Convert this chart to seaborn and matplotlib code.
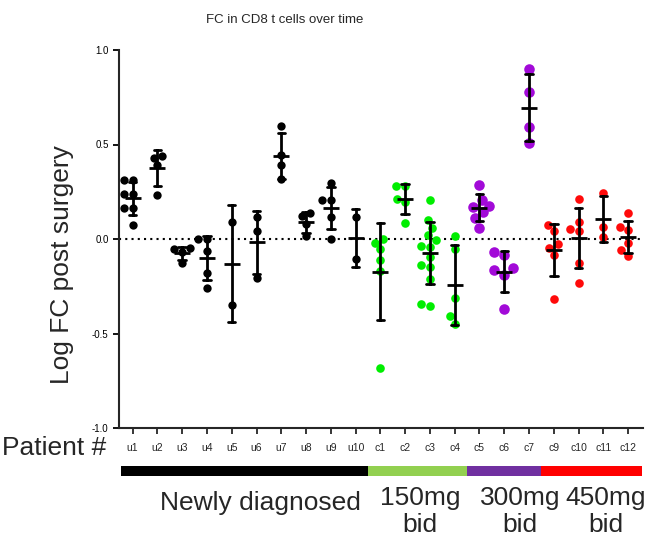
import matplotlib
matplotlib.use("Agg")
import matplotlib.pyplot as plt
from matplotlib.patches import Rectangle
import seaborn as sns
import pandas as pd

# ---- data ----
patients = ["u1", "u2", "u3", "u4", "u5", "u6", "u7", "u8", "u9", "u10",
            "c1", "c2", "c3", "c4", "c5", "c6", "c7", "c9", "c10", "c11", "c12"]

u1 = [0.31, 0.31, 0.24, 0.24, 0.165, 0.165, 0.075]
u2 = [0.44, 0.43, 0.39, 0.235]
u3 = [-0.05, -0.055, -0.07, -0.125]
u4 = [0.0, 0.0, -0.065, -0.18, -0.26]
u5 = [0.09, -0.35]
u6 = [0.115, 0.04, -0.205]
u7 = [0.60, 0.445, 0.39, 0.315]
u8 = [0.14, 0.12, 0.08, 0.015]
u9 = [0.295, 0.205, 0.205, 0.115, 0.0]
u10 = [0.115, -0.105]
c1 = [0.0, -0.02, -0.055, -0.11, -0.17, -0.68]
c2 = [0.28, 0.28, 0.21, 0.195, 0.085]
c3 = [0.205, 0.10, 0.06, 0.02, -0.005, -0.04, -0.035, -0.095, -0.14, -0.15,
      -0.21, -0.355, -0.345]
c4 = [0.015, -0.055, -0.31, -0.41, -0.45]
c5 = [0.285, 0.205, 0.175, 0.17, 0.145, 0.11, 0.06]
c6 = [-0.07, -0.085, -0.155, -0.165, -0.19, -0.37]
c7 = [0.90, 0.78, 0.59, 0.51]
c9 = [0.075, 0.04, -0.025, -0.045, -0.085, -0.315]
c10 = [0.21, 0.09, 0.055, 0.04, -0.125, -0.235]
c11 = [0.245, 0.065, 0.01]
c12 = [0.135, 0.065, 0.045, -0.02, -0.06, -0.09]

values = [u1, u2, u3, u4, u5, u6, u7, u8, u9, u10,
          c1, c2, c3, c4, c5, c6, c7, c9, c10, c11, c12]

groups = ["new"] * 10 + ["150"] * 4 + ["300"] * 3 + ["450"] * 4
group_names = ["new", "150", "300", "450"]
group_labels = ["Newly diagnosed", "150mg\nbid", "300mg\nbid", "450mg\nbid"]
group_counts = [10, 4, 3, 4]
dot_colors = {"new": "#000000", "150": "#00EE00", "300": "#A20AD8", "450": "#FF0A0A"}
dot_sizes = {"new": 6.0, "150": 6.2, "300": 7.6, "450": 6.2}
bar_colors = ["#000000", "#92D050", "#7030A0", "#FF0000"]

rows = []
for p, g, vals in zip(patients, groups, values):
    for v in vals:
        rows.append({"patient": p, "group": g, "value": v})
df = pd.DataFrame(rows)

# ---- plotting ----
sns.set_style("ticks")
plt.rcParams["font.family"] = ["Liberation Sans", "DejaVu Sans"]

fig = plt.figure(figsize=(6.55, 5.49), dpi=100)
ax = fig.add_axes([119 / 655, 121 / 549, 524 / 655, 378 / 549])

ax.axhline(0, color="black", linestyle=(0, (1, 2)), linewidth=1.5, zorder=0.5)

for g in group_names:
    sub = df[df["group"] == g]
    sns.swarmplot(data=sub, x="patient", y="value", order=patients,
                  color=dot_colors[g], size=dot_sizes[g], ax=ax, zorder=1)

sns.pointplot(data=df, x="patient", y="value", order=patients,
              errorbar="sd", color="black", markers="_", markersize=12,
              markeredgewidth=2, linestyle="none", capsize=0.3,
              err_kws={"linewidth": 2}, ax=ax, zorder=3)

ax.set_xlim(-0.55, 20.6)
ax.set_ylim(-1.0, 1.0)
ax.set_yticks([-1.0, -0.5, 0.0, 0.5, 1.0])
ax.set_yticklabels(["-1.0", "-0.5", "0.0", "0.5", "1.0"])
ax.set_xlabel("")
ax.set_ylabel("")
sns.despine(ax=ax)
for s in ["left", "bottom"]:
    ax.spines[s].set_linewidth(1.5)
ax.tick_params(axis="both", direction="out", length=4.5, width=1.3)
ax.tick_params(axis="x", labelsize=7.5, pad=6)
ax.tick_params(axis="y", labelsize=7, pad=3, colors="black")

# group colour bar and labels below the axis
xt = ax.get_xaxis_transform()
start = -0.45
for cnt, col in zip(group_counts, bar_colors):
    end = start + cnt if start > 0 else cnt - 0.5
    ax.add_patch(Rectangle((start, -0.127), end - start, 0.027,
                           transform=xt, color=col, clip_on=False, lw=0))
    start = end
ax.patches[-1].set_width(20.55 - ax.patches[-1].get_x())

label_x = [5.16, 11.6, 15.65, 19.1]
label_y = [-0.198, -0.222, -0.222, -0.222]
for lx, ly, lab in zip(label_x, label_y, group_labels):
    ax.text(lx, ly, lab, transform=xt, ha="center", va="center",
            fontsize=19, linespacing=1.15)

fig.text(62 / 655, 1 - 265 / 549, "Log FC post surgery", rotation=90,
         ha="center", va="center", fontsize=19)
fig.text(2 / 655, 1 - 448 / 549, "Patient #", ha="left", va="center", fontsize=19)
fig.text(285 / 655, 1 - 20 / 549, "FC in CD8 t cells over time",
         ha="center", va="center", fontsize=9.5)

fig.savefig("out.png", dpi=100)
